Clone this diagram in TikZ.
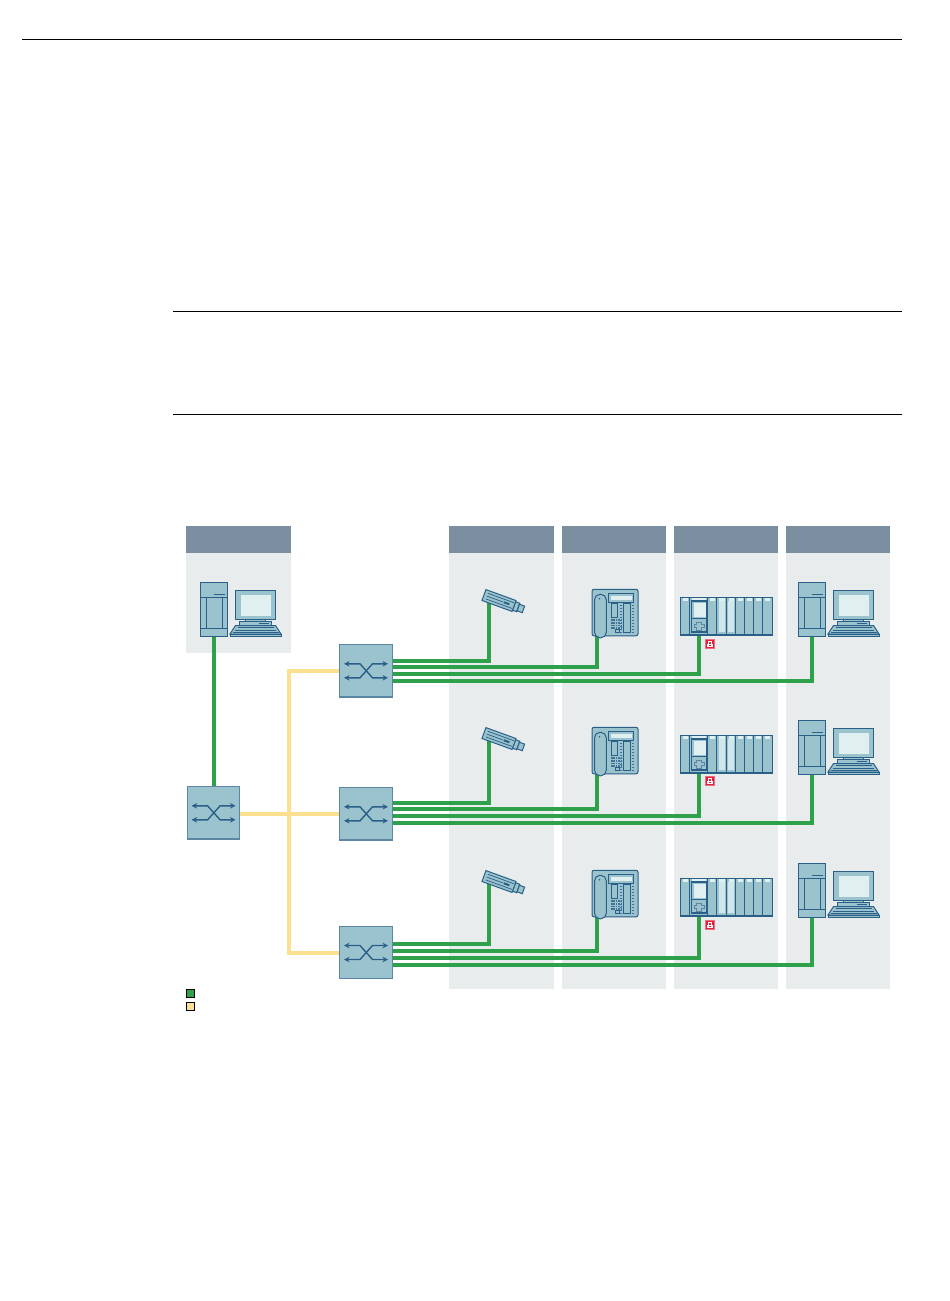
\documentclass[tikz,border=0pt]{standalone}
\usetikzlibrary{arrows.meta}
\definecolor{devfill}{HTML}{9BC3CE}
\definecolor{devline}{HTML}{2A5F88}
\definecolor{devpale}{HTML}{E0F0F0}
\definecolor{swline}{HTML}{5C87A4}
\definecolor{headgray}{HTML}{7C8FA0}
\definecolor{colgray}{HTML}{E8ECED}
\definecolor{ethgreen}{HTML}{2FA14A}
\definecolor{optyellow}{HTML}{FBE08F}
\definecolor{lockred}{HTML}{E2203C}
\tikzset{
  ethline/.style={draw=ethgreen, line width=4pt},
  optline/.style={draw=optyellow, line width=4pt},
  devpart/.style={draw=devline, fill=devfill, line width=1pt},
  devdet/.style={draw=devline, line width=0.9pt},
  switchbox/.style={draw=swline, fill=devfill, line width=1.2pt, minimum size=52.5pt, inner sep=0pt},
  legendbox/.style={draw=black, line width=0.8pt, minimum size=8.5pt, inner sep=0pt},
  swarrow/.style={devline, line width=1.4pt, {Stealth[length=5.5pt,width=5.5pt]}-{Stealth[length=5.5pt,width=5.5pt]}},
  pics/pcunit/.style={code={
    \draw[devpart] (0,0) rectangle (26.7,53.5);
    \draw[devdet] (0,15) -- (26.7,15) (0,46) -- (26.7,46) (5.5,15) -- (5.5,46) (21.5,15) -- (21.5,46) (13.5,12) -- (24,12);
    \draw[devpart] (35.3,8.3) rectangle (74.7,37.3);
    \fill[devpale] (40,12.7) rectangle (70,33);
    \draw[devpart] (45,37.3) rectangle (65,39.3);
    \draw[devpart] (39.3,39.3) rectangle (70.7,43);
    \draw[devdet] (58,41) -- (68,41);
    \draw[devpart] (35,43) -- (75,43) -- (80.5,51.5) -- (29.5,51.5) -- cycle;
    \draw[devpart] (29.5,51.5) rectangle (80.5,53.5);
    \foreach \ky/\kl in {45/37, 47.5/34.5, 50/32} {
      \draw[devdet, line width=0.7pt] (\kl,\ky) -- (110-\kl,\ky);
    }
  }},
  pics/telunit/.style={code={
    \draw[devpart, rounded corners=2pt] (0,0) rectangle (46,46.5);
    \draw[devpart, rounded corners=5.5pt] (2.5,5) rectangle (14.3,48.5);
    \fill[devline] (7.5,9.5) circle (0.9);
    \draw[devpart] (16.5,4) rectangle (41.5,13);
    \fill[devpale] (19,6.5) rectangle (39.5,10.5);
    \draw[devdet] (19.7,14.5) rectangle (25.7,28);
    \draw[devdet] (31,14.5) rectangle (38.7,43);
    \foreach \kx in {19,21.4,23.8,26.2,28.6} {
      \foreach \ky in {30,32.6,35.2,37.8} {
        \fill[devline!80!devfill] (\kx,\ky) rectangle +(1.6,1.6);
      }
    }
    \draw[devdet] (23.5,40.5) rectangle (27.5,43.5);
    \foreach \ky in {16,19,22,25,28,31,34,37,40,43} {
      \fill[devline!80!devfill] (28,\ky-.5) rectangle +(2.4,1.1);
      \fill[devline!80!devfill] (39.7,\ky-.5) rectangle +(2.4,1.1);
    }
  }},
  pics/plcunit/.style={code={
    \foreach \xa/\xb in {0/9.3, 9.3/27.3, 27.3/36.3, 36.3/46, 46/55, 55/64, 64/73, 73/82, 82/91.5} {
      \draw[devpart] (\xa,0) rectangle (\xb,38.5);
      \fill[devpale] (\xa+2,1) rectangle (\xb-2,3.5);
      \draw[devline, line width=1.2pt] (\xa,36.8) -- (\xb,36.8);
    }
    \fill[devpale!80!devfill] (38,4) rectangle (44.7,34.5);
    \fill[devpale!80!devfill] (47.5,4) rectangle (53.5,34.5);
    \draw[devline, line width=1.4pt] (11,3.7) rectangle (26.5,34.7);
    \fill[devpale] (13.3,5.3) rectangle (25,20);
    \draw[devdet] (11,21) -- (26.5,21);
    \draw[swline, line width=0.9pt] (16,25.5) -- (21,25.5) -- (21,27.5) -- (24,27.5) -- (24,30.5) -- (21,30.5) -- (21,33) -- (16,33) -- (16,30.5) -- (13.5,30.5) -- (13.5,27.5) -- (16,27.5) -- cycle;
  }},
  pics/camunit/.style={code={
    \begin{scope}[rotate=-20]
      \draw[devpart] (16,-4.5) rectangle (20.5,4.5);
      \draw[devpart] (20.5,-3.5) rectangle (26,3.5);
      \draw[devpart] (-16,-5.8) rectangle (16,5.8);
      \draw[devdet, line width=0.7pt] (-13,-3) -- (15,-3) (-13,0) -- (4,0) (-13,3) -- (15,3);
      \fill[devline] (5,-1) rectangle (11,1);
    \end{scope}
  }},
  pics/lockunit/.style={code={
    \fill[lockred!65!white] (-5,-5) rectangle (5,5);
    \fill[lockred] (-4,-4) rectangle (4,4);
    \draw[white, line width=0.8pt] (-1.8,0) -- (-1.8,-2.6) -- (1.8,-2.6) -- (1.8,0);
    \fill[white] (-2.8,0) rectangle (2.8,3.2);
    \fill[lockred] (-0.6,0.8) rectangle (0.6,2.4);
  }},
  pics/swcross/.style={code={
    \draw[swarrow] (-22,-7) -- (-6,-7) -- (6.5,7) -- (22,7);
    \draw[swarrow] (-22,7) -- (-6,7) -- (6.5,-7) -- (22,-7);
  }}
}
\begin{document}
\begin{tikzpicture}[x=1pt, y=-1pt, line join=miter]
  \useasboundingbox (0,0) rectangle (950,1301);
  \draw[black, line width=0.7pt] (22,39) -- (902,39);
  \draw[black, line width=0.7pt] (173,311) -- (902,311);
  \draw[black, line width=0.7pt] (173,414) -- (902,414);
  % columns
  \fill[colgray] (186,553) rectangle (291,653);
  \fill[headgray] (186,526) rectangle (291,553);
  \foreach \xcol in {449,561.5,673.5,785.5} {
    \fill[colgray] (\xcol,553) rectangle (\xcol+104.5,989);
    \fill[headgray] (\xcol,526) rectangle (\xcol+104.5,553);
  }
  % switches
  \node[switchbox] (swM) at (213.6,812.8) {};
  \node[switchbox] (swA) at (366,670.8) {};
  \node[switchbox] (swB) at (366,813.8) {};
  \node[switchbox] (swC) at (366,952.5) {};
  \coordinate (pcO) at (213.7,634);
  \coordinate (busmid) at (289,814);
  % wires
  \draw[optline] (swM.east |- busmid) -- (swB.west |- busmid);
  \draw[optline] (swA.west) -| (busmid) |- (swC.west);
  \draw[ethline] (pcO) -- (pcO |- swM.north);
  \foreach \row/\off in {A/0, B/138, C/281} {
    \coordinate (cam\row) at (489,600+\off);
    \coordinate (tel\row) at (597,634+\off);
    \coordinate (plc\row) at (699,634+\off);
    \coordinate (pc\row) at (812,634+\off);
  }
  \foreach \row/\dl in {A/0, B/1, C/-2} {
    \draw[ethline] ([yshift=10.2pt+\dl pt]sw\row.east) -| (cam\row);
    \draw[ethline] ([yshift=3.5pt+\dl pt]sw\row.east) -| (tel\row);
    \draw[ethline] ([yshift=-3.5pt+\dl pt]sw\row.east) -| (plc\row);
    \draw[ethline] ([yshift=-10.5pt+\dl pt]sw\row.east) -| (pc\row);
  }
  % devices
  \pic at (200.5,582.5) {pcunit};
  \foreach \row/\off/\lky in {A/0/644, B/138/781, C/281/925} {
    \pic at (499,600.5+\off) {camunit};
    \pic at (592,589.3+\off) {telunit};
    \pic at (680.5,597.3+\off) {plcunit};
    \pic at (710,\lky) {lockunit};
    \pic at (798.5,582.5+\off) {pcunit};
  }
  \foreach \sw in {swM,swA,swB,swC} {
    \pic at (\sw) {swcross};
  }
  % legend
  \node[legendbox, fill=ethgreen] (lgGreen) at (190.5,993.5) {};
  \node[legendbox, fill=optyellow] (lgYellow) at (190.5,1006.5) {};
\end{tikzpicture}
\end{document}
